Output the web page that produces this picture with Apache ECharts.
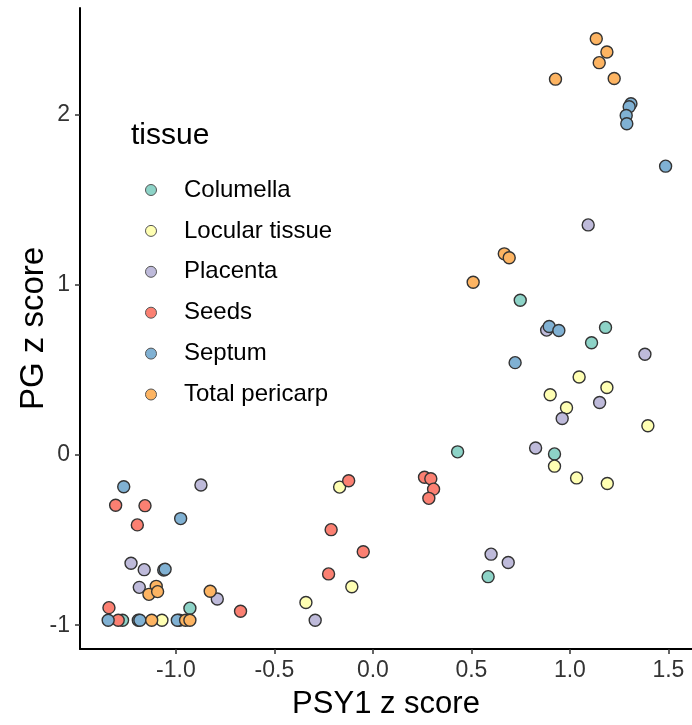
<!DOCTYPE html>
<html><head><meta charset="utf-8">
<script src="https://cdn.jsdelivr.net/npm/echarts@6/dist/echarts.min.js"></script>
<style>html,body{margin:0;padding:0;background:#fff}#c{width:692px;height:725px}</style>
</head><body><div id="c"></div>
<script>
const tissues = ['Columella', 'Locular tissue', 'Placenta', 'Seeds', 'Septum', 'Total pericarp'];
const xTicks = [-1.0, -0.5, 0.0, 0.5, 1.0, 1.5];
const yTicks = [-1, 0, 1, 2];

const columellaX = [0.430, 0.748, 1.181, 1.110, 0.922, 0.585, -0.929, -1.271, -0.983];
const columellaY = [0.018, 0.908, 0.749, 0.659, 0.006, -0.715, -0.900, -0.971, -0.971];

const locularX = [-0.169, -0.107, -0.340, 1.047, 1.188, 0.900, 0.983, 1.396, 0.922, 1.034, 1.190, -1.071];
const locularY = [-0.189, -0.774, -0.867, 0.458, 0.396, 0.353, 0.277, 0.171, -0.066, -0.135, -0.168, -0.971];

const placentaX = [-0.873, -1.228, -1.161, -1.186, -0.790, -0.293, 1.093, 0.882, 1.381, 1.151, 0.961, 0.826, 0.600, 0.687];
const placentaY = [-0.177, -0.636, -0.674, -0.778, -0.846, -0.971, 1.351, 0.733, 0.591, 0.308, 0.214, 0.041, -0.583, -0.632];

const seedsX = [-1.306, -1.157, -1.196, -0.212, -0.225, -0.672, -1.340, -0.123, 0.262, 0.294, 0.308, 0.284, -0.049, -1.293];
const seedsY = [-0.296, -0.298, -0.411, -0.439, -0.699, -0.918, -0.897, -0.152, -0.131, -0.140, -0.201, -0.255, -0.569, -0.971];

const septumX = [-1.265, -0.976, -1.062, -1.055, 0.895, 0.944, 0.722, 1.310, 1.301, 1.286, 1.289, 1.486, -1.344, -1.191, -1.183, -0.993];
const septumY = [-0.187, -0.374, -0.676, -0.672, 0.754, 0.731, 0.542, 2.063, 2.045, 1.994, 1.945, 1.696, -0.971, -0.971, -0.971, -0.971];

const pericarpX = [-1.100, -1.137, -1.093, -0.826, 0.667, 0.692, 0.509, 1.134, 1.188, 1.149, 0.927, 1.225, -1.123, -0.951, -0.929];
const pericarpY = [-0.772, -0.819, -0.803, -0.801, 1.181, 1.158, 1.014, 2.444, 2.367, 2.304, 2.207, 2.211, -0.971, -0.971, -0.971];

const seriesX = [columellaX, locularX, placentaX, seedsX, septumX, pericarpX];
const seriesY = [columellaY, locularY, placentaY, seedsY, septumY, pericarpY];
const palette = ['#8DD3C7', '#FFFFB3', '#BEBADA', '#FB8072', '#80B1D3', '#FDB462'];

const FONT = 'Liberation Sans, Arial, sans-serif';
const chart = echarts.init(document.getElementById('c'), null, {renderer: 'canvas'});

const series = tissues.map((name, i) => ({
  name: name,
  type: 'scatter',
  symbol: 'circle',
  symbolSize: 12,
  data: seriesX[i].map((x, j) => [x, seriesY[i][j]]),
  itemStyle: {color: palette[i], borderColor: '#333333', borderWidth: 1.4, opacity: 1},
  emphasis: {disabled: true},
  z: 2
}));

chart.setOption({
  animation: false,
  backgroundColor: '#ffffff',
  textStyle: {fontFamily: FONT},
  grid: {left: 80, right: 0, top: 8, bottom: 73, containLabel: false},
  graphic: [{
    type: 'text', left: 131, top: 121,
    style: {text: 'tissue', fontSize: 30, fontFamily: FONT, fill: '#000'}
  }],
  legend: {
    orient: 'vertical',
    left: 140, top: 173,
    icon: 'circle',
    itemWidth: 36, itemHeight: 11,
    itemGap: 16.9,
    data: tissues,
    itemStyle: {borderColor: '#555', borderWidth: 1},
    textStyle: {fontSize: 24, fontFamily: FONT, color: '#000', lineHeight: 22, padding: [0, 0, 0, 10]},
    selectedMode: false
  },
  xAxis: {
    type: 'value', min: -1.487, max: 1.62,
    name: 'PSY1 z score', nameLocation: 'middle', nameGap: 40, nameMoveOverlap: false,
    nameTextStyle: {fontSize: 31, color: '#000', fontFamily: FONT},
    axisLine: {show: true, onZero: false, lineStyle: {color: '#000', width: 2}},
    axisTick: {show: true, length: 5, lineStyle: {color: '#333', width: 1.5}, customValues: xTicks},
    axisLabel: {fontSize: 23, color: '#333', margin: 10, customValues: xTicks,
      formatter: v => v.toFixed(1)},
    splitLine: {show: false}
  },
  yAxis: {
    type: 'value', min: -1.14, max: 2.625,
    name: 'PG z score', nameLocation: 'middle', nameGap: 30, nameRotate: 90, nameMoveOverlap: false,
    nameTextStyle: {fontSize: 33, color: '#000', fontFamily: FONT},
    axisLine: {show: true, onZero: false, lineStyle: {color: '#000', width: 2}},
    axisTick: {show: true, length: 5, lineStyle: {color: '#333', width: 1.5}, customValues: yTicks},
    axisLabel: {fontSize: 23, color: '#333', margin: 10, customValues: yTicks,
      formatter: v => String(v)},
    splitLine: {show: false}
  },
  series: series
});
</script></body></html>
